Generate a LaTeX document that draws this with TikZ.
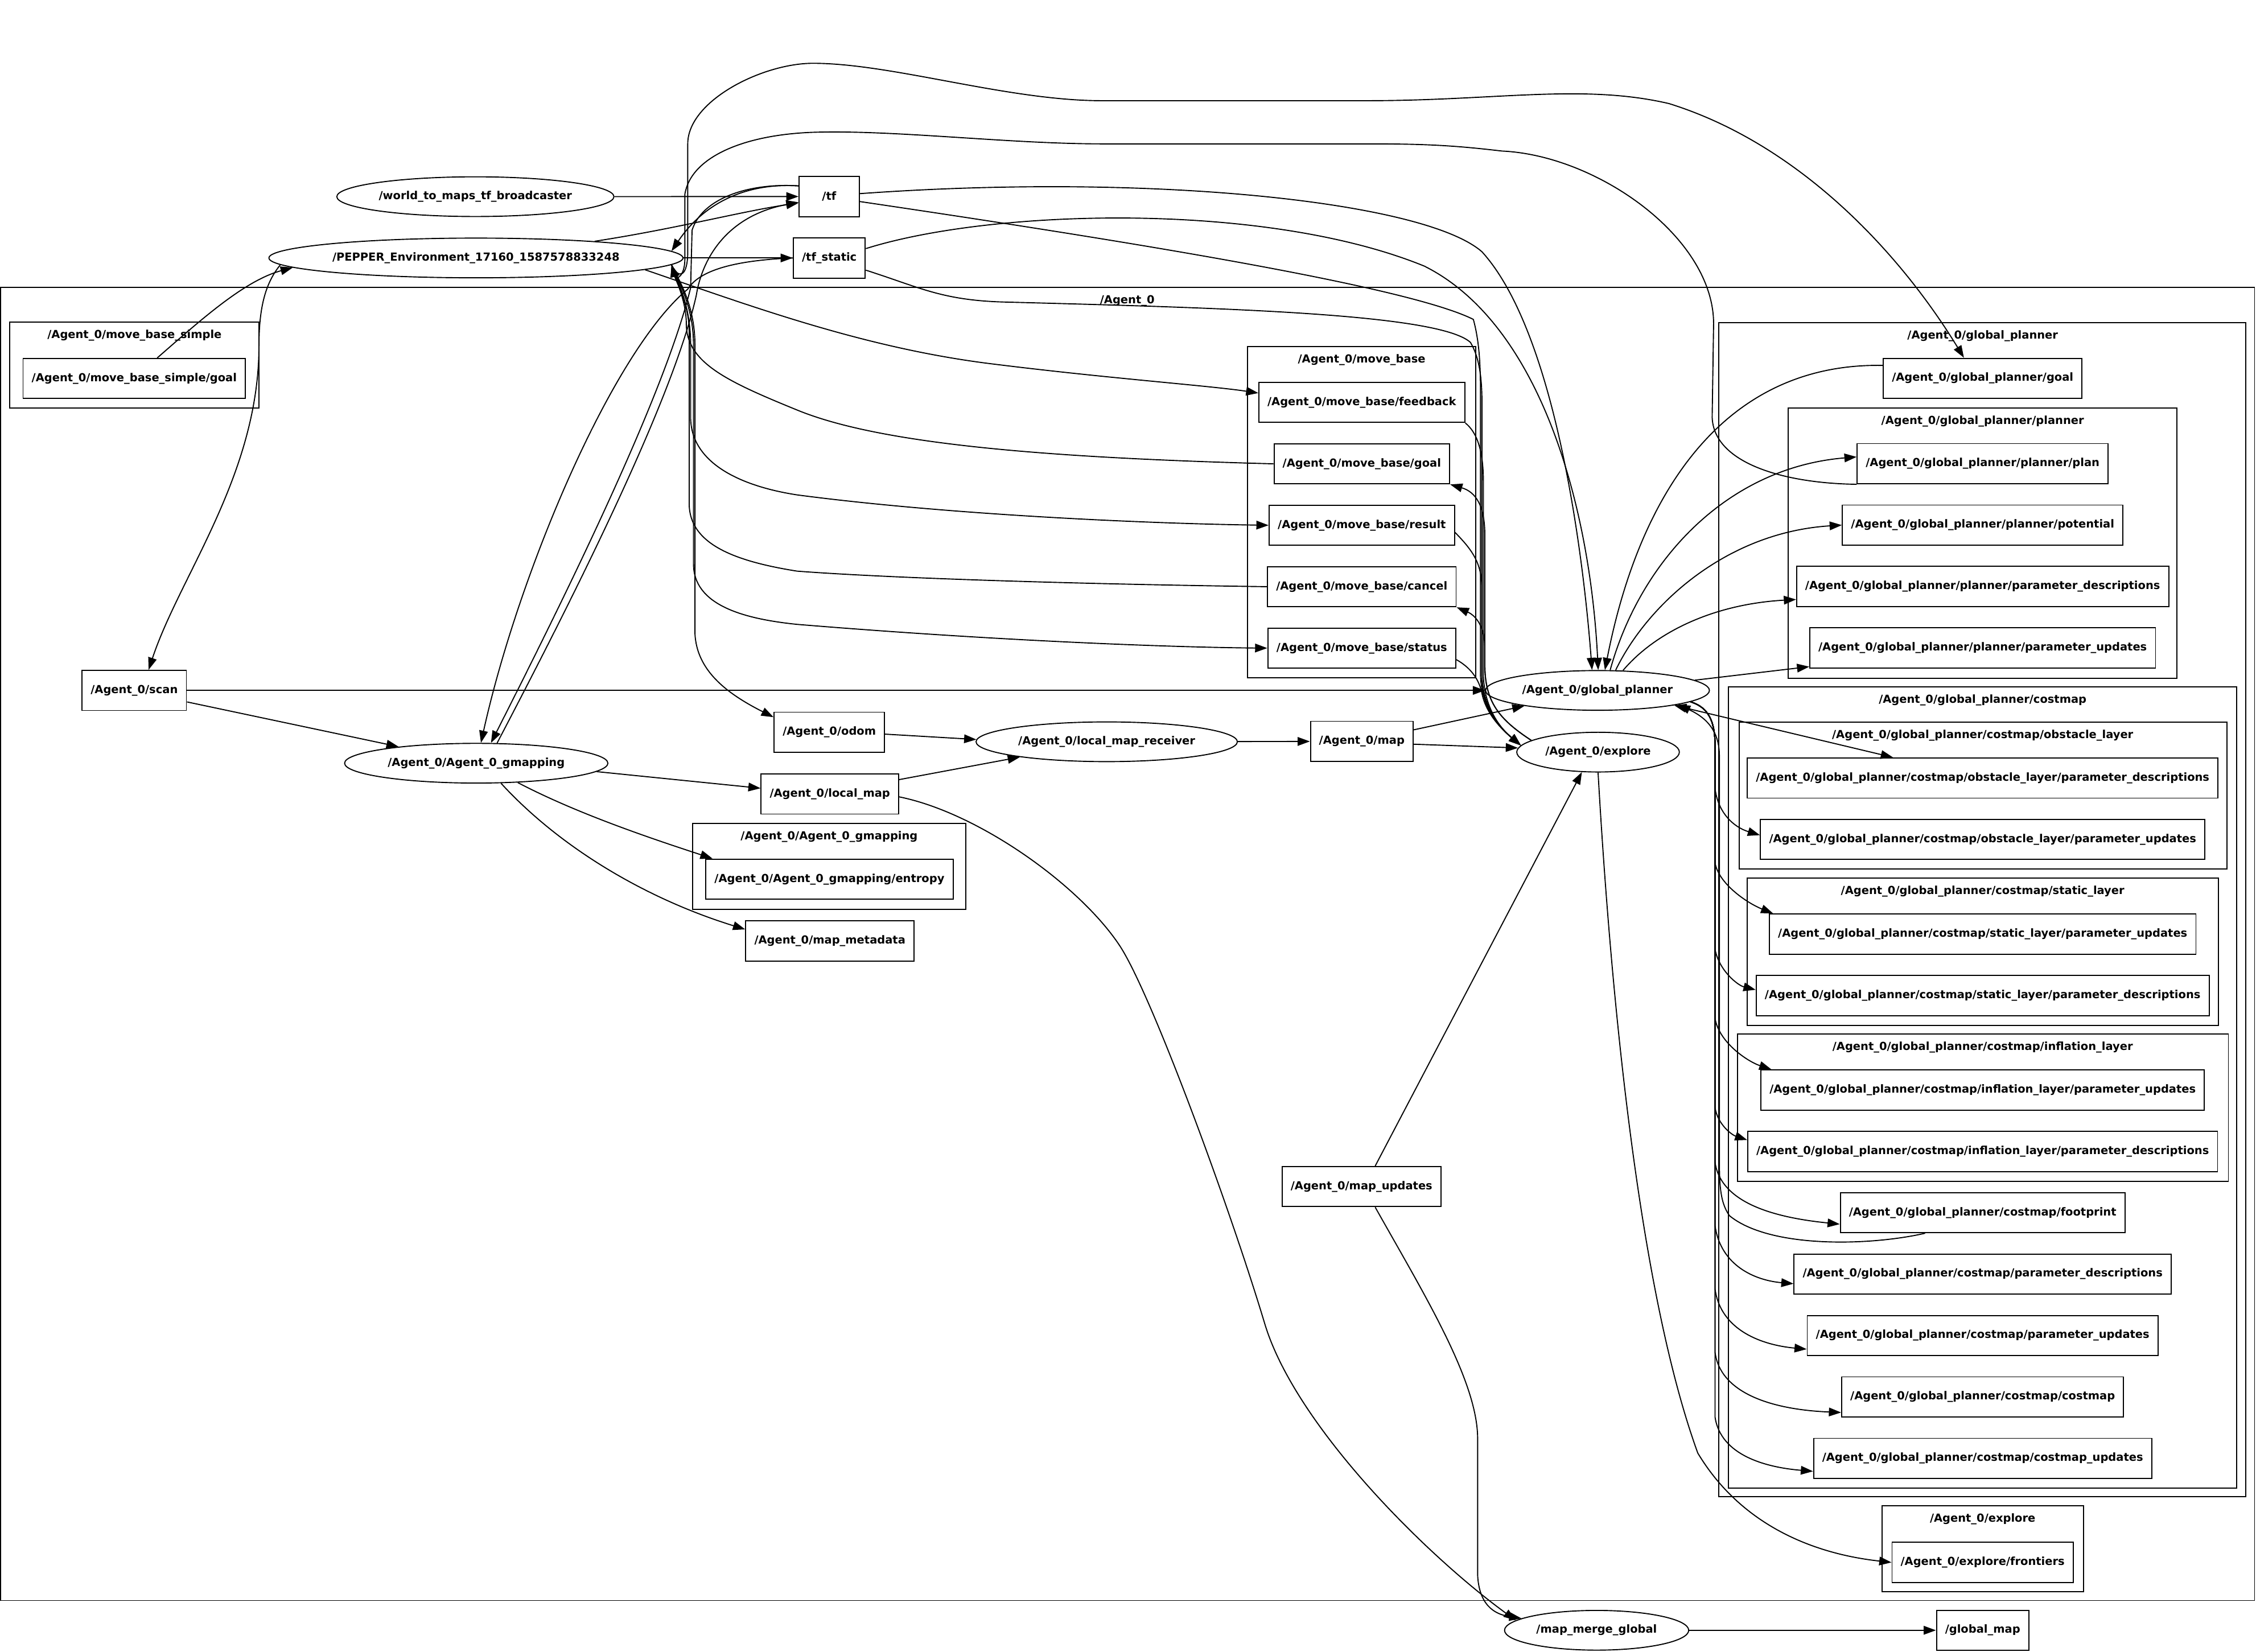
\documentclass[tikz,border=0pt]{standalone}
\usepackage{fontspec}
\setmainfont{DejaVu Sans}
\usetikzlibrary{arrows.meta, shapes.geometric, positioning}

\begin{document}
\begin{tikzpicture}[x=1pt, y=-1pt, node distance=42.7pt, line width=0.75pt,
    >={Triangle[length=8.5pt, width=6pt]},
    font=\bfseries\fontsize{7.7}{9}\selectfont,
    topic/.style={draw, rectangle, minimum width=41.9pt, minimum height=27.9pt, inner xsep=6pt, inner ysep=0pt},
    rosnode/.style={draw, ellipse, minimum height=27.6pt, inner xsep=-2pt, inner ysep=0pt}]

    \useasboundingbox (0,0) rectangle (1568,1148);

    % Clusters
    \draw (0.5,199.8) rectangle (1567,1112.5);
    \node (cAG) at (783.5,209.1) {/Agent\_0};
    \draw (6.9,224) rectangle (180,283.6);
    \node (cMS) at (93.5,233.3) {/Agent\_0/move\_base\_simple};
    \draw (867,240.8) rectangle (1025.7,471.2);
    \node (cMB) at (946.4,250.1) {/Agent\_0/move\_base};
    \draw (481.4,572.4) rectangle (671.2,632);
    \node (cGM) at (576.3,581.7) {/Agent\_0/Agent\_0\_gmapping};
    \draw (1194.6,224.3) rectangle (1561,1040.4);
    \node (cGP) at (1378,233.6) {/Agent\_0/global\_planner};
    \draw (1243,283.6) rectangle (1513,471.6);
    \node (cPL) at (1378,292.9) {/Agent\_0/global\_planner/planner};
    \draw (1201.4,477.5) rectangle (1554.6,1034.2);
    \node (cCM) at (1378,486.8) {/Agent\_0/global\_planner/costmap};
    \draw (1208.7,502) rectangle (1547.7,604);
    \node (cOL) at (1378,511.3) {/Agent\_0/global\_planner/costmap/obstacle\_layer};
    \draw (1214.2,610.4) rectangle (1541.9,712.7);
    \node (cSL) at (1378,619.7) {/Agent\_0/global\_planner/costmap/static\_layer};
    \draw (1207.6,718.7) rectangle (1548.8,821.2);
    \node (cIL) at (1378,728) {/Agent\_0/global\_planner/costmap/inflation\_layer};
    \draw (1308,1046.7) rectangle (1448,1106.2);
    \node (cEX) at (1378,1056) {/Agent\_0/explore};

    % Nodes
    \node (WTM) [rosnode, minimum width=192.6pt] at (330.4,136.7) {/world\_to\_maps\_tf\_broadcaster};
    \node (TF) [topic] at (576.3,136.6) {/tf};
    \node (PE) [rosnode, minimum width=287.8pt] at (330.8,179.3) {/PEPPER\_Environment\_17160\_1587578833248};
    \node (TFS) [topic] at (576.4,179.3) {/tf\_static};
    \node (MSG) [topic] at (93.3,263.1) {/Agent\_0/move\_base\_simple/goal};
    \node (SC) [topic] at (93.3,479.9) {/Agent\_0/scan};
    \node (GM) [rosnode, minimum width=183pt] at (331,530.5) {/Agent\_0/Agent\_0\_gmapping};
    \node (OD) [topic] at (576.4,509) {/Agent\_0/odom};
    \node (LM) [topic] at (576.8,551.9) {/Agent\_0/local\_map};
    \node (EN) [topic] at (576.5,611.1) {/Agent\_0/Agent\_0\_gmapping/entropy};
    \node (MM) [topic] at (576.8,654) {/Agent\_0/map\_metadata};
    \node (LMR) [rosnode, minimum width=181.6pt] at (769.2,515.6) {/Agent\_0/local\_map\_receiver};
    \node (MAP) [topic] at (946.5,515.3) {/Agent\_0/map};
    \node (MU) [topic] at (946.3,824.8) {/Agent\_0/map\_updates};

    \node (MBF) [topic] at (946.5,279.7) {/Agent\_0/move\_base/feedback};
    \node (MBG) [topic, below of=MBF] {/Agent\_0/move\_base/goal};
    \node (MBR) [topic, below of=MBG] {/Agent\_0/move\_base/result};
    \node (MBC) [topic, below of=MBR] {/Agent\_0/move\_base/cancel};
    \node (MBS) [topic, below of=MBC] {/Agent\_0/move\_base/status};

    \node (GP) [rosnode, minimum width=155.6pt] at (1110.3,479.9) {/Agent\_0/global\_planner};
    \node (EX) [rosnode, minimum width=113pt] at (1110.7,522.8) {/Agent\_0/explore};

    \node (GPG) [topic] at (1378,263) {/Agent\_0/global\_planner/goal};
    \node (PL) [topic] at (1378,322.3) {/Agent\_0/global\_planner/planner/plan};
    \node (PO) [topic, below of=PL] {/Agent\_0/global\_planner/planner/potential};
    \node (PPD) [topic, below of=PO] {/Agent\_0/global\_planner/planner/parameter\_descriptions};
    \node (PPU) [topic, below of=PPD] {/Agent\_0/global\_planner/planner/parameter\_updates};
    \node (OPD) [topic] at (1378,540.8) {/Agent\_0/global\_planner/costmap/obstacle\_layer/parameter\_descriptions};
    \node (OPU) [topic, below of=OPD] {/Agent\_0/global\_planner/costmap/obstacle\_layer/parameter\_updates};
    \node (SPU) [topic] at (1378,649.3) {/Agent\_0/global\_planner/costmap/static\_layer/parameter\_updates};
    \node (SPD) [topic, below of=SPU] {/Agent\_0/global\_planner/costmap/static\_layer/parameter\_descriptions};
    \node (IPU) [topic] at (1378,757.7) {/Agent\_0/global\_planner/costmap/inflation\_layer/parameter\_updates};
    \node (IPD) [topic, below of=IPU] {/Agent\_0/global\_planner/costmap/inflation\_layer/parameter\_descriptions};
    \node (FP) [topic] at (1378,842.9) {/Agent\_0/global\_planner/costmap/footprint};
    \node (CPD) [topic, below of=FP] {/Agent\_0/global\_planner/costmap/parameter\_descriptions};
    \node (CPU) [topic, below of=CPD] {/Agent\_0/global\_planner/costmap/parameter\_updates};
    \node (CM) [topic, below of=CPU] {/Agent\_0/global\_planner/costmap/costmap};
    \node (CMU) [topic, below of=CM] {/Agent\_0/global\_planner/costmap/costmap\_updates};
    \node (FR) [topic] at (1378,1086) {/Agent\_0/explore/frontiers};

    \node (MMG) [rosnode, minimum width=128pt] at (1109.7,1133.2) {/map\_merge\_global};
    \node (GMAP) [topic] at (1378,1133.2) {/global\_map};

    % tf and the environment
    \draw[->] (WTM) -- (TF);
    \draw[->] (PE.8) .. controls (470,159) and (515,147) .. ([yshift=-4.5pt]TF.west);
    \draw[->] (PE) -- (TFS);
    \draw[->] ([yshift=7.4pt]TF.west) .. controls (520,127) and (490,140) .. (PE.2.8);
    \draw[->] ([yshift=7.4pt]TF.west) .. controls (520,127) and (488,138) .. (481,160) -- (480,200) .. controls (462,275) and (390,420) .. (GM.54.6);
    \draw[->] (GM.44) .. controls (396,420) and (468,278) .. (484,205) .. controls (488,180) and (505,150) .. ([yshift=-4pt]TF.west);
    \draw[->] (TFS.west) .. controls (510,181) and (486,188) .. (478,201) .. controls (425,245) and (360,400) .. (GM.77.6);
    \draw[->] ([xshift=16pt]MSG.north) .. controls (140,222) and (170,195) .. (PE.183.5);
    \draw[->] (PE.182.5) .. controls (186,195) and (180,210) .. (180,240) .. controls (180,330) and (125,400) .. ([xshift=10pt]SC.north);

    % move_base topics
    \draw[->] (PE.-4.3) .. controls (520,212) and (600,242) .. (690,253) .. controls (770,263) and (840,268) .. ([yshift=6.5pt]MBF.west);
    \draw[->] (MBG.west) .. controls (720,318) and (610,308) .. (554,285) .. controls (505,265) and (477,252) .. (477,225) .. controls (477,210) and (470,195) .. (PE.-2.6);
    \draw[->] (PE.-2.6) .. controls (470,195) and (480,210) .. (480,240) -- (480,290) .. controls (480,322) and (515,338) .. (554,344) .. controls (660,358) and (800,364) .. (MBR.west);
    \draw[->] (MBC.west) .. controls (750,406) and (620,402) .. (554,397) .. controls (510,390) and (479,378) .. (479,350) -- (479,230) .. controls (479,212) and (470,196) .. (PE.-2.6);
    \draw[->] (PE.-2.6) .. controls (471,195) and (482,212) .. (482,240) -- (482,392) .. controls (482,420) and (515,430) .. (554,434) .. controls (700,446) and (820,450) .. (MBS.west);
    \draw[->] (PE.-2.6) .. controls (472,195) and (483,212) .. (483,240) -- (483,440) .. controls (484,466) and (505,482) .. ([yshift=10.5pt]OD.west);

    % long curves over the top
    \draw[->] (PE.-2.6) .. controls (472,195) and (478,192) .. (478,175) -- (478,100) .. controls (478,70) and (530,44) .. (565,44) .. controls (620,44) and (700,70) .. (766,70) -- (950,70) .. controls (1040,70) and (1100,58) .. (1160,72) .. controls (1250,100) and (1320,175) .. ([xshift=-13pt]GPG.north);
    \draw[->] (PL.south west) .. controls (1240,336) and (1191,322) .. (1190,290) -- (1191,225) .. controls (1191,165) and (1110,108) .. (1044,105) .. controls (1010,101) and (990,100) .. (950,100) -- (766,100) .. controls (700,100) and (620,90) .. (564,92) .. controls (515,94) and (480,110) .. (476,135) -- (476,180) .. controls (476,192) and (470,195) .. (PE.-2.6);

    % tf into global_planner and explore
    \draw[->] ([yshift=2pt]TF.east) .. controls (800,120) and (990,140) .. (1030,175) .. controls (1080,230) and (1100,380) .. (GP.105);
    \draw[->] ([yshift=6.5pt]TFS.east) .. controls (690,145) and (880,140) .. (990,185) .. controls (1070,225) and (1105,350) .. (GP.88);
    \draw[->] ([yshift=-3.5pt]TF.east) .. controls (800,170) and (980,200) .. (1024,222) .. controls (1029,240) and (1029,260) .. (1029,280) -- (1029,470) .. controls (1030,495) and (1045,508) .. (EX.175);
    \draw[->] ([yshift=-8.5pt]TFS.east) .. controls (640,200) and (655,209) .. (700,210) .. controls (850,214) and (1000,218) .. (1022,238) .. controls (1028,248) and (1030,262) .. (1030,280) -- (1030,470) .. controls (1031,495) and (1045,508) .. (EX.175);

    % explore and move_base
    \draw[->] (MBF.south east) .. controls (1026,300) and (1031,312) .. (1031,335) -- (1031,470) .. controls (1032,495) and (1045,508) .. (EX.175);
    \draw[->] ([yshift=-5pt]MBR.east) .. controls (1024,383) and (1030,392) .. (1030,410) -- (1030,472) .. controls (1031,495) and (1045,508) .. (EX.175);
    \draw[->] ([yshift=-8pt]MBS.east) .. controls (1022,464) and (1028,472) .. (1030,482) .. controls (1033,497) and (1045,508) .. (EX.175);
    \draw[->] (EX.170) .. controls (1042,500) and (1032,488) .. (1032,462) -- (1032,372) .. controls (1032,352) and (1026,342) .. (MBG.south east);
    \draw[->] (EX.170) .. controls (1042,500) and (1032,488) .. (1032,462) -- (1032,450) .. controls (1032,436) and (1026,428) .. (MBC.south east);

    % global_planner
    \draw[->] ([yshift=9pt]GPG.west) .. controls (1200,252) and (1140,340) .. (GP.70);
    \draw[->] (GP.58) .. controls (1140,390) and (1200,325) .. ([yshift=4.7pt]PL.west);
    \draw[->] (GP.48) .. controls (1145,420) and (1200,370) .. (PO.west);
    \draw[->] (GP.38) .. controls (1150,440) and (1190,420) .. ([yshift=-9pt]PPD.west);
    \draw[->] (GP.6) -- ([yshift=-13pt]PPU.west);
    \draw[<->] (GP.-11) -- ([xshift=-62.3pt]OPD.north);
    \draw[->] (GP.-7) .. controls (1185,491) and (1192,498) .. (1192,518) -- (1192,548) .. controls (1194,565) and (1205,575) .. ([yshift=3pt]OPU.west);
    \draw[->] (GP.-7) .. controls (1185,491) and (1192,498) .. (1192,518) -- (1192,600) .. controls (1195,615) and (1215,628) .. ([xshift=3pt]SPU.north west);
    \draw[->] (GP.-7) .. controls (1185,491) and (1192,498) .. (1192,518) -- (1192,660) .. controls (1195,675) and (1208,685) .. ([yshift=4pt]SPD.west);
    \draw[->] (GP.-7) .. controls (1185,491) and (1192,498) .. (1192,518) -- (1192,708) .. controls (1195,725) and (1215,738) .. ([xshift=7.7pt]IPU.north west);
    \draw[->] (GP.-7) .. controls (1185,491) and (1192,498) .. (1192,518) -- (1192,770) .. controls (1194,782) and (1204,789) .. ([yshift=8pt]IPD.west);
    \draw[->] (GP.-7) .. controls (1185,491) and (1192,498) .. (1192,518) -- (1192,808) .. controls (1196,835) and (1230,846) .. ([yshift=-8pt]FP.west);
    \draw[->] (GP.-7) .. controls (1185,491) and (1192,498) .. (1192,518) -- (1192,852) .. controls (1196,880) and (1220,890) .. ([yshift=-6.7pt]CPD.west);
    \draw[->] (GP.-7) .. controls (1185,491) and (1192,498) .. (1192,518) -- (1192,896) .. controls (1196,925) and (1225,935) .. ([yshift=-9.5pt]CPU.west);
    \draw[->] (GP.-7) .. controls (1185,491) and (1192,498) .. (1192,518) -- (1192,940) .. controls (1196,970) and (1235,980) .. ([yshift=-10.8pt]CM.west);
    \draw[->] (GP.-7) .. controls (1185,491) and (1192,498) .. (1192,518) -- (1192,985) .. controls (1196,1012) and (1228,1020) .. ([yshift=-9pt]CMU.west);
    \draw[->] ([xshift=-40pt]FP.south) .. controls (1300,866) and (1230,868) .. (1202,845) .. controls (1195,835) and (1195,822) .. (1195,800) -- (1195,525) .. controls (1195,505) and (1182,497) .. (GP.-10);

    % scan, gmapping and maps
    \draw[->] (SC) -- (GP);
    \draw[->] ([yshift=-8pt]SC.east) -- (GM.168.5);
    \draw[->] (GM.-4.7) -- ([yshift=4pt]LM.west);
    \draw[->] (GM.-25) .. controls (400,565) and (450,582) .. ([xshift=5pt]EN.north west);
    \draw[->] (GM.-39) .. controls (390,590) and (450,625) .. ([yshift=8pt]MM.west);
    \draw[->] ([yshift=-1.3pt]OD.east) -- (LMR.179);
    \draw[->] ([yshift=10pt]LM.east) -- (LMR.190.5);
    \draw[->] (LMR) -- (MAP);
    \draw[->] ([yshift=8pt]MAP.east) -- (GP.192.2);
    \draw[->] ([yshift=-2pt]MAP.east) -- (EX.177);
    \draw[->] ([xshift=9.5pt]MU.north) -- (EX.231.3);
    \draw[->] (EX.south) .. controls (1120,700) and (1140,900) .. (1180,1010) .. controls (1210,1060) and (1260,1080) .. (FR.west);
    \draw[->] ([yshift=-2pt]LM.east) .. controls (680,565) and (750,615) .. (778,657) .. controls (800,690) and (855,840) .. (879,920) .. controls (900,990) and (990,1080) .. (MMG.173.7);
    \draw[->] ([xshift=9.5pt]MU.south) .. controls (990,900) and (1027,960) .. (1027,1000) -- (1027,1095) .. controls (1028,1115) and (1038,1122) .. (MMG.171);
    \draw[->] (MMG) -- (GMAP);

\end{tikzpicture}
\end{document}
